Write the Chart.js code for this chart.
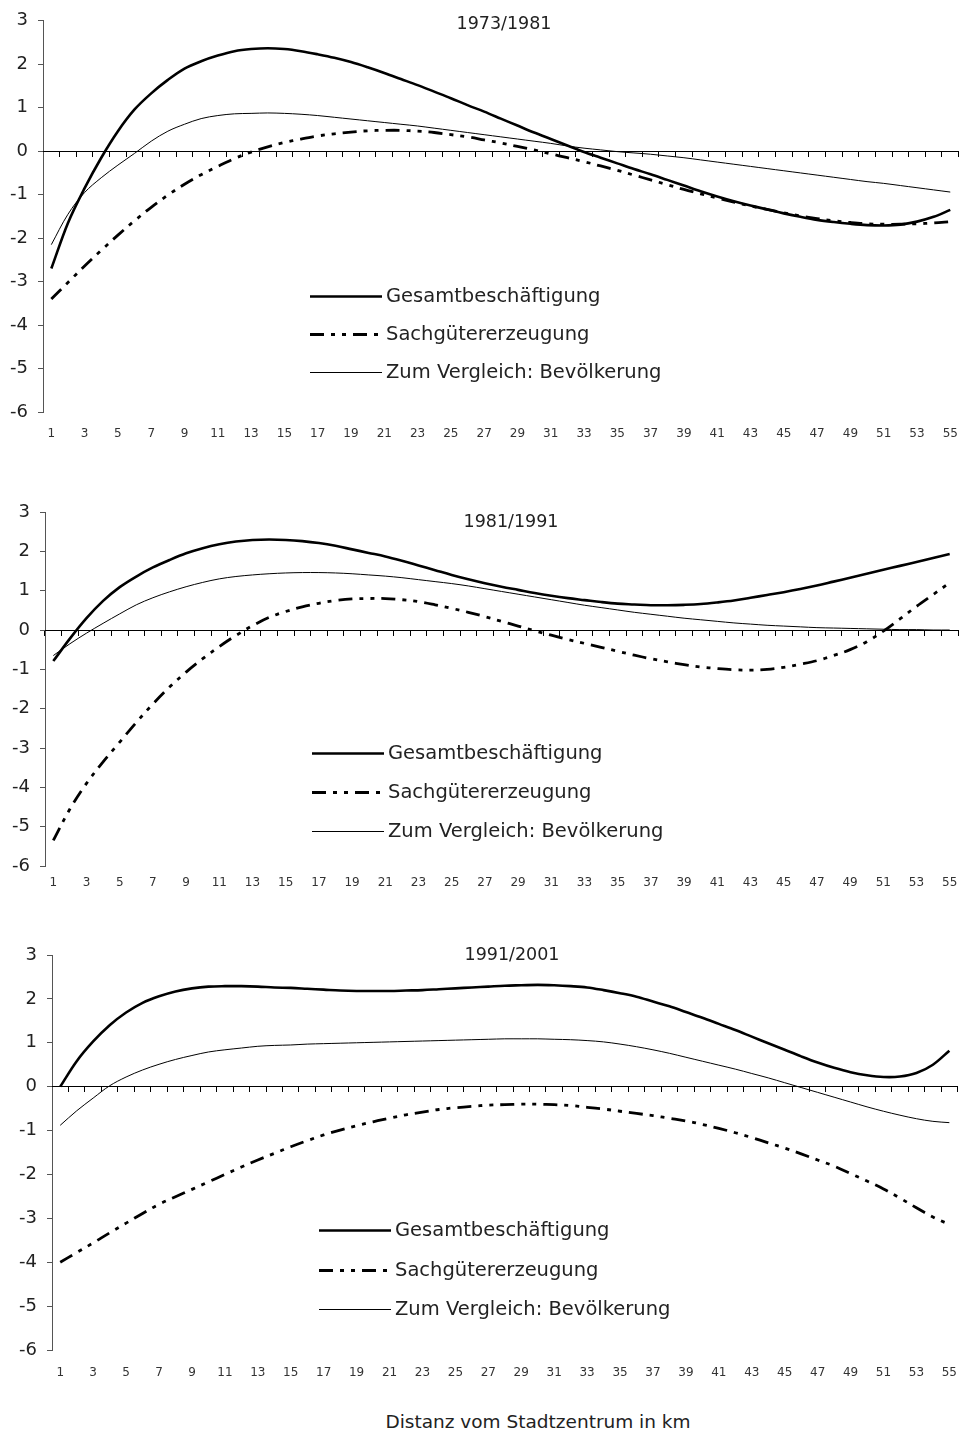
<!DOCTYPE html>
<html>
<head>
<meta charset="utf-8">
<script src="https://cdn.jsdelivr.net/npm/chart.js@4.4.1/dist/chart.umd.min.js"></script>
<style>
  body { margin: 0; background: #fff; }
  #wrap { position: relative; width: 973px; height: 1450px; }
  canvas { position: absolute; left: 0; }
  #xtitle {
    position: absolute; top: 1411px; left: 538px; transform: translateX(-50%);
    font: 18.5px "DejaVu Sans", sans-serif; color: #222; white-space: nowrap;
  }
</style>
</head>
<body>
<div id="wrap">
  <canvas id="c1" width="973" height="450" style="top:0"></canvas>
  <canvas id="c2" width="973" height="450" style="top:450px"></canvas>
  <canvas id="c3" width="973" height="500" style="top:900px"></canvas>
  <div id="xtitle">Distanz vom Stadtzentrum in km</div>
</div>
<script>
// ── Data ────────────────────────────────────────
const DISTANZ = [1, 2, 3, 4, 5, 6, 7, 8, 9, 10, 11, 12, 13, 14, 15, 16, 17, 18, 19, 20,
  21, 22, 23, 24, 25, 26, 27, 28, 29, 30, 31, 32, 33, 34, 35, 36, 37, 38, 39, 40,
  41, 42, 43, 44, 45, 46, 47, 48, 49, 50, 51, 52, 53, 54, 55];
const Y_TICKS = [3, 2, 1, 0, -1, -2, -3, -4, -5, -6];
const SERIES_NAMES = ['Gesamtbeschäftigung', 'Sachgütererzeugung', 'Zum Vergleich: Bevölkerung'];

// 1973/1981
const gesamt7381 = [-2.70, -1.65, -0.85, -0.15, 0.46, 0.96, 1.33, 1.64, 1.90, 2.07,
  2.20, 2.30, 2.35, 2.37, 2.35, 2.30, 2.23, 2.15, 2.05, 1.93,
  1.80, 1.66, 1.52, 1.37, 1.22, 1.06, 0.91, 0.75, 0.59, 0.43,
  0.28, 0.13, -0.02, -0.15, -0.28, -0.41, -0.53, -0.66, -0.79, -0.92,
  -1.04, -1.15, -1.25, -1.34, -1.43, -1.51, -1.58, -1.63, -1.67, -1.70,
  -1.71, -1.69, -1.62, -1.51, -1.35];
const sach7381 = [-3.40, -3.02, -2.64, -2.28, -1.93, -1.60, -1.29, -1.01, -0.76, -0.54,
  -0.35, -0.17, -0.02, 0.10, 0.20, 0.28, 0.35, 0.40, 0.44, 0.47,
  0.48, 0.48, 0.46, 0.43, 0.38, 0.33, 0.26, 0.19, 0.11, 0.03,
  -0.06, -0.15, -0.24, -0.34, -0.44, -0.55, -0.66, -0.77, -0.88, -0.98,
  -1.08, -1.17, -1.26, -1.34, -1.42, -1.49, -1.55, -1.60, -1.64, -1.67,
  -1.68, -1.68, -1.67, -1.65, -1.62];
const bev7381 = [-2.15, -1.45, -0.95, -0.61, -0.32, -0.05, 0.23, 0.46, 0.62, 0.75,
  0.82, 0.86, 0.87, 0.88, 0.87, 0.85, 0.82, 0.78, 0.74, 0.70,
  0.66, 0.62, 0.58, 0.53, 0.48, 0.43, 0.38, 0.33, 0.28, 0.23,
  0.18, 0.12, 0.07, 0.03, -0.01, -0.04, -0.07, -0.11, -0.15, -0.20,
  -0.25, -0.30, -0.35, -0.40, -0.45, -0.50, -0.55, -0.60, -0.65, -0.70,
  -0.74, -0.79, -0.84, -0.89, -0.94];

// 1981/1991
const gesamt8191 = [-0.79, -0.22, 0.30, 0.74, 1.09, 1.36, 1.59, 1.78, 1.95, 2.08,
  2.18, 2.25, 2.29, 2.30, 2.29, 2.26, 2.21, 2.14, 2.05, 1.96,
  1.87, 1.76, 1.64, 1.52, 1.40, 1.29, 1.19, 1.10, 1.02, 0.94,
  0.87, 0.81, 0.76, 0.71, 0.67, 0.65, 0.63, 0.63, 0.64, 0.66,
  0.70, 0.75, 0.82, 0.89, 0.96, 1.04, 1.13, 1.23, 1.33, 1.43,
  1.53, 1.63, 1.73, 1.83, 1.93];
const sach8191 = [-5.35, -4.55, -3.90, -3.35, -2.85, -2.35, -1.88, -1.45, -1.07, -0.73,
  -0.42, -0.14, 0.11, 0.32, 0.47, 0.59, 0.68, 0.75, 0.79, 0.80,
  0.80, 0.77, 0.72, 0.64, 0.55, 0.45, 0.34, 0.22, 0.10, -0.02,
  -0.13, -0.24, -0.34, -0.44, -0.54, -0.64, -0.73, -0.81, -0.88, -0.94,
  -0.98, -1.01, -1.02, -1.00, -0.95, -0.87, -0.78, -0.65, -0.50, -0.30,
  -0.03, 0.28, 0.60, 0.90, 1.20];
const bev8191 = [-0.65, -0.35, -0.08, 0.17, 0.41, 0.64, 0.82, 0.97, 1.10, 1.21,
  1.30, 1.36, 1.40, 1.43, 1.45, 1.46, 1.46, 1.45, 1.43, 1.40,
  1.37, 1.33, 1.28, 1.23, 1.18, 1.12, 1.05, 0.98, 0.91, 0.84,
  0.77, 0.70, 0.63, 0.57, 0.51, 0.45, 0.40, 0.35, 0.30, 0.26,
  0.22, 0.18, 0.15, 0.12, 0.10, 0.08, 0.06, 0.05, 0.04, 0.03,
  0.02, 0.01, 0.01, 0.00, 0.00];

// 1991/2001
const gesamt9101 = [0.00, 0.58, 1.03, 1.40, 1.69, 1.91, 2.06, 2.17, 2.24, 2.28,
  2.29, 2.29, 2.28, 2.26, 2.25, 2.23, 2.21, 2.19, 2.18, 2.18,
  2.18, 2.19, 2.20, 2.22, 2.24, 2.26, 2.28, 2.30, 2.31, 2.32,
  2.31, 2.29, 2.26, 2.20, 2.13, 2.05, 1.94, 1.83, 1.70, 1.57,
  1.43, 1.29, 1.14, 0.99, 0.84, 0.69, 0.55, 0.43, 0.33, 0.26,
  0.22, 0.23, 0.31, 0.50, 0.82];
const sach9101 = [-4.00, -3.78, -3.56, -3.33, -3.11, -2.89, -2.68, -2.51, -2.34, -2.17,
  -2.00, -1.83, -1.67, -1.52, -1.37, -1.23, -1.10, -0.99, -0.89, -0.80,
  -0.72, -0.64, -0.58, -0.52, -0.48, -0.45, -0.42, -0.41, -0.40, -0.40,
  -0.41, -0.43, -0.47, -0.51, -0.56, -0.61, -0.66, -0.72, -0.78, -0.86,
  -0.95, -1.05, -1.16, -1.28, -1.40, -1.53, -1.67, -1.81, -1.98, -2.15,
  -2.33, -2.54, -2.76, -2.97, -3.14];
const bev9101 = [-0.88, -0.55, -0.26, 0.02, 0.22, 0.38, 0.51, 0.62, 0.71, 0.79,
  0.84, 0.88, 0.92, 0.94, 0.95, 0.97, 0.98, 0.99, 1.00, 1.01,
  1.02, 1.03, 1.04, 1.05, 1.06, 1.07, 1.08, 1.09, 1.09, 1.09,
  1.08, 1.07, 1.05, 1.02, 0.97, 0.91, 0.84, 0.76, 0.67, 0.58,
  0.49, 0.40, 0.30, 0.20, 0.09, -0.02, -0.13, -0.24, -0.35, -0.46,
  -0.56, -0.65, -0.73, -0.79, -0.82];

// ── Panel layout (pixels inside each canvas) ───
const PANELS = [
  { id: 'c1', title: '1973/1981', series: [gesamt7381, sach7381, bev7381],
    top: 19, left: 43, right: 10, axisH: 38, labelPad: 15,
    titleX: 504, titleDy: 4, legendTop: 275, legendGap: 38 },
  { id: 'c2', title: '1981/1991', series: [gesamt8191, sach8191, bev8191],
    top: 62, left: 45, right: 15, axisH: 34, labelPad: 10,
    titleX: 511, titleDy: 10, legendTop: 241, legendGap: 39 },
  { id: 'c3', title: '1991/2001', series: [gesamt9101, sach9101, bev9101],
    top: 55, left: 52, right: 1, axisH: 50, labelPad: 16,
    titleX: 512, titleDy: 0, legendTop: 275, legendGap: 39.5 },
];

const FONT = '"DejaVu Sans", sans-serif';
Chart.defaults.font.family = FONT;
Chart.defaults.color = '#222';

const LINE_STYLES = [
  { borderWidth: 2.6, borderDash: [] },
  { borderWidth: 2.8, borderDash: [14, 7, 4, 7, 4, 7] },
  { borderWidth: 1, borderDash: [] },
];

// title + legend drawn inside the plot area, as in the original
const panelDecor = {
  id: 'panelDecor',
  afterDatasetsDraw(chart, args, opts) {
    const { ctx, chartArea } = chart;
    ctx.save();
    ctx.fillStyle = '#222';
    ctx.textBaseline = 'middle';
    ctx.font = '17.5px ' + FONT;
    ctx.textAlign = 'center';
    ctx.fillText(opts.title, opts.titleX, chartArea.top + opts.titleDy);

    ctx.font = '19.5px ' + FONT;
    ctx.textAlign = 'left';
    chart.data.datasets.forEach((ds, i) => {
      const y = Math.round(chartArea.top + opts.legendTop + i * opts.legendGap) + 0.5;
      const x0 = chartArea.left + 267;
      ctx.beginPath();
      ctx.setLineDash(ds.borderDash || []);
      ctx.lineWidth = ds.borderWidth;
      ctx.strokeStyle = ds.borderColor;
      ctx.moveTo(x0, y);
      ctx.lineTo(x0 + 72, y);
      ctx.stroke();
      ctx.setLineDash([]);
      ctx.fillText(ds.label, x0 + 76, y);
    });
    ctx.restore();
  },
};

function renderPanel(p) {
  const datasets = p.series.map((data, i) => ({
    label: SERIES_NAMES[i],
    data,
    borderColor: '#000',
    borderWidth: LINE_STYLES[i].borderWidth,
    borderDash: LINE_STYLES[i].borderDash,
    borderCapStyle: 'butt',
    pointRadius: 0,
    tension: 0.35,
    fill: false,
  }));

  return new Chart(document.getElementById(p.id), {
    type: 'line',
    data: { labels: DISTANZ, datasets },
    options: {
      responsive: false,
      animation: false,
      events: [],
      layout: { padding: { top: p.top, right: p.right, left: 0, bottom: 0 } },
      plugins: {
        legend: { display: false },
        tooltip: { enabled: false },
        panelDecor: { title: p.title, titleX: p.titleX, titleDy: p.titleDy,
          legendTop: p.legendTop, legendGap: p.legendGap },
      },
      scales: {
        y: {
          min: -6, max: 3,
          afterBuildTicks: s => { s.ticks = Y_TICKS.map(v => ({ value: v })); },
          afterFit: s => { s.width = p.left; },
          grid: { drawOnChartArea: false, drawTicks: true, tickLength: 5, color: '#555' },
          border: { color: '#555', width: 1 },
          ticks: { padding: 10, font: { size: 18 }, color: '#222' },
        },
        x: {
          type: 'category',
          offset: true,
          afterFit: s => { s.height = p.axisH; },
          grid: { display: false, drawTicks: false },
          border: { display: false },
          ticks: {
            autoSkip: false, maxRotation: 0, minRotation: 0,
            padding: p.labelPad, font: { size: 12 }, color: '#333',
            callback: (v, i) => (i % 2 === 0 ? String(DISTANZ[i]) : ''),
          },
        },
        x0: {
          type: 'category',
          position: { y: 0 },
          offset: true,
          afterFit: s => { s.height = 0; },
          grid: { drawOnChartArea: false, drawTicks: true, tickLength: 5, offset: true, color: '#000' },
          border: { color: '#000', width: 1 },
          ticks: { display: false },
        },
      },
    },
    plugins: [panelDecor],
  });
}

PANELS.forEach(renderPanel);
</script>
</body>
</html>
